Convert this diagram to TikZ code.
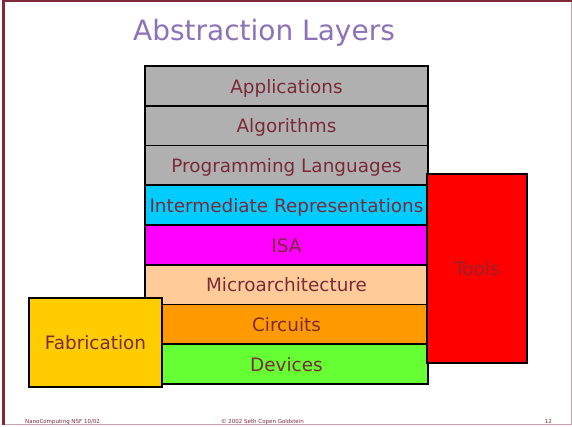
\documentclass[tikz,border=0pt]{standalone}
\usepackage{fontspec}
\setmainfont{DejaVu Sans}
\definecolor{framered}{HTML}{7F2A38}
\definecolor{framepink}{HTML}{C8A0A8}
\definecolor{labelred}{HTML}{7A2B3A}
\definecolor{titlepurple}{HTML}{8C72B8}
\definecolor{layergray}{HTML}{B0B0B0}
\definecolor{layercyan}{HTML}{00CCFF}
\definecolor{layermagenta}{HTML}{FF00FF}
\definecolor{layerpeach}{HTML}{FFCC99}
\definecolor{layerorange}{HTML}{FF9900}
\definecolor{layergreen}{HTML}{66FF33}
\definecolor{fabyellow}{HTML}{FFCC00}
\definecolor{toolred}{HTML}{FF0000}
\tikzset{
  layerbox/.style={draw=black, line width=1.6pt, inner sep=0pt, outer sep=0pt,
    minimum width=283pt, minimum height=39.75pt, text=labelred,
    text height=17pt, text depth=2.4pt,
    font=\fontsize{18.4}{20}\selectfont},
  sidebox/.style={draw=black, line width=1.6pt, inner sep=0pt, outer sep=0pt,
    text=labelred, text height=17pt, text depth=2.4pt,
    font=\fontsize{18.4}{20}\selectfont},
  foot/.style={text=framered, font=\fontsize{5.5}{6}\selectfont, inner sep=0pt}
}
\begin{document}
\begin{tikzpicture}[x=1pt, y=-1pt]
  \useasboundingbox (0,0) rectangle (572,427);
  \fill[white] (0,0) rectangle (572,427);
  % slide frame
  \fill[framered] (1.5,0) rectangle (5,424.5);
  \fill[framered] (1.5,0) rectangle (572,2.5);
  \draw[framepink, line width=1pt] (5,424.5) -- (572,424.5);
  \draw[framepink, line width=1pt] (571,2.5) -- (571,424.5);
  % title
  \node[text=titlepurple, font=\fontsize{28}{32}\selectfont, inner sep=0pt] (title) at (264,33) {Abstraction Layers};
  % layer stack
  \node[layerbox, fill=layergray]    (app)   at (286.5,85.9)  {Applications};
  \node[layerbox, fill=layergray]    (alg)   at (286.5,125.6) {Algorithms};
  \node[layerbox, fill=layergray]    (pl)    at (286.5,165.4) {Programming Languages};
  \node[layerbox, fill=layercyan]    (ir)    at (286.5,205.1) {Intermediate Representations};
  \node[layerbox, fill=layermagenta] (isa)   at (286.5,244.9) {ISA};
  \node[layerbox, fill=layerpeach]   (march) at (286.5,284.6) {Microarchitecture};
  \node[layerbox, fill=layerorange]  (circ)  at (286.5,324.4) {Circuits};
  \node[layerbox, fill=layergreen]   (dev)   at (286.5,364.1) {Devices};
  % side blocks
  \node[sidebox, fill=toolred, minimum width=100pt, minimum height=189pt, text=labelred!80!toolred] (tools) at (477,268.5) {Tools};
  \node[sidebox, fill=fabyellow, minimum width=133pt, minimum height=89pt] (fab) at (95.5,342.5) {Fabrication};
  % footer
  \node[foot, anchor=base west] (fl) at (25,423) {NanoComputing NSF 10/02};
  \node[foot, anchor=base] (fc) at (262.5,423) {© 2002 Seth Copen Goldstein};
  \node[foot, anchor=base east] (fr) at (552,423) {12};
\end{tikzpicture}
\end{document}
